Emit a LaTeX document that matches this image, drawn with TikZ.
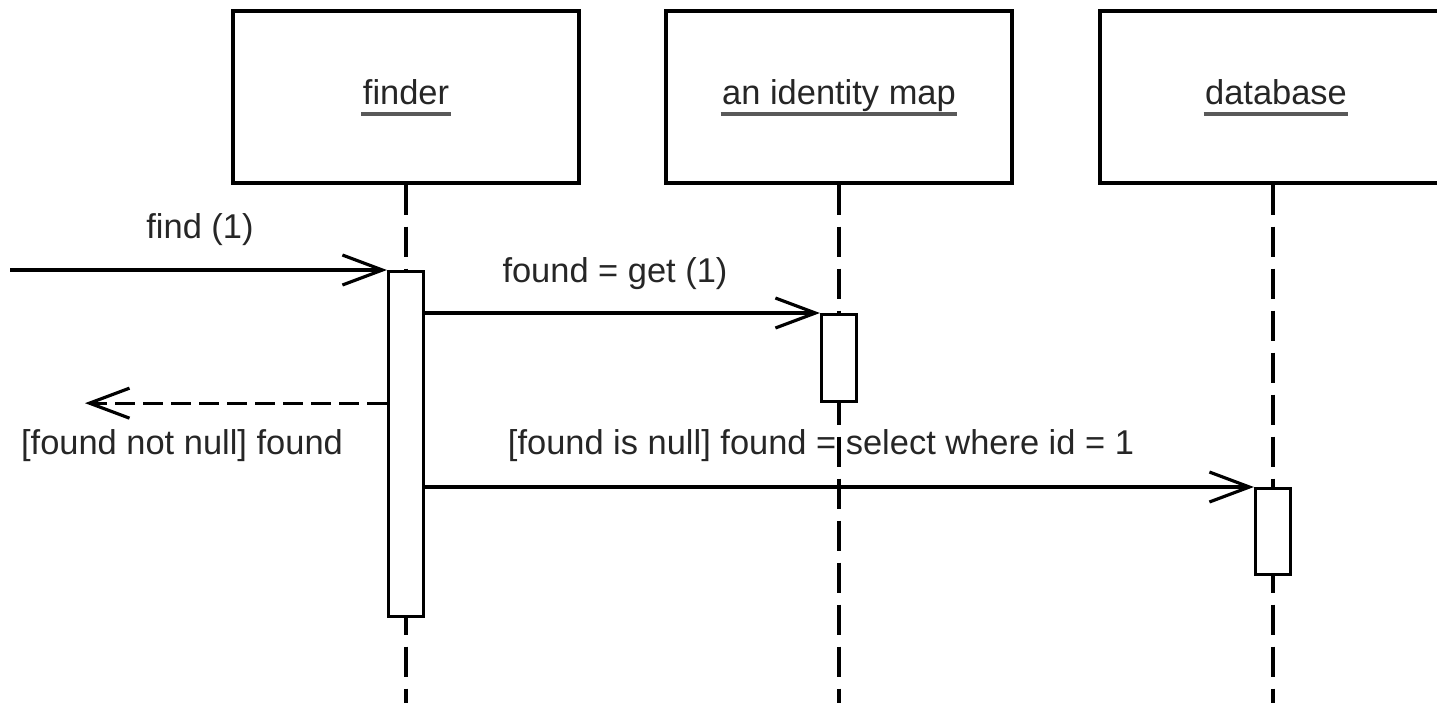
\documentclass[tikz,border=0pt]{standalone}
\usepackage{fontspec}
\setmainfont{Liberation Sans}
\usetikzlibrary{arrows.meta}

\begin{document}
\begin{tikzpicture}[x=0.1mm, y=-0.1mm, line width=0.9pt,
    font=\fontsize{9.8}{12}\selectfont,
    objbox/.style={draw, minimum width=34.6mm, minimum height=17.2mm, inner sep=0pt},
    objname/.style={anchor=base, inner sep=0pt, text=black!85},
    objline/.style={black!65, line width=1.2pt},
    lifeline/.style={dash pattern=on 3mm off 1.2mm},
    actbar/.style={draw, fill=white, anchor=north, minimum width=3.5mm, inner sep=0pt},
    msg/.style={-{Straight Barb[length=4mm, width=3mm]}},
    reply/.style={msg, dash pattern=on 2mm off 0.8mm},
    msglabel/.style={anchor=base, inner sep=0pt, text=black!85}]
    \clip (0, 0) rectangle (1437, 703);

    % objects
    \node[objbox] (finder) at (406, 97) {};
    \node[objbox] (idmap) at (839, 97) {};
    \node[objbox] (db) at (1273, 97) {};

    \node[objname] (finderlbl) at (406, 104) {finder};
    \node[objname] (idmaplbl) at (839, 104) {an identity map};
    \node[objname] (dblbl) at (1276, 104) {database};
    \draw[objline] ([yshift=-1mm]finderlbl.base west) -- ([yshift=-1mm]finderlbl.base east);
    \draw[objline] ([yshift=-1mm]idmaplbl.base west) -- ([yshift=-1mm]idmaplbl.base east);
    \draw[objline] ([yshift=-1mm]dblbl.base west) -- ([yshift=-1mm]dblbl.base east);

    % lifelines
    \coordinate (finderend) at (406, 703);
    \coordinate (idmapend) at (839, 703);
    \coordinate (dbend) at (1273, 703);
    \draw[lifeline] (finder.south) -- (finderend);
    \draw[lifeline] (idmap.south) -- (idmapend);
    \draw[lifeline] (db.south) -- (dbend);

    % activations
    \node[actbar, minimum height=34.5mm] (finderact) at (406, 270) {};
    \node[actbar, minimum height=8.7mm] (idmapact) at (839, 313) {};
    \node[actbar, minimum height=8.6mm] (dbact) at (1273, 487) {};

    % messages
    \coordinate (caller) at (10, 270);
    \coordinate (replyend) at (85, 400);
    \draw[msg] (caller) -- (finderact.north west);
    \draw[msg] (finderact.east |- idmapact.north) -- (idmapact.north west);
    \draw[reply] (finderact.west |- idmapact.south) -- (idmapact.south -| replyend);
    \draw[msg] (finderact.east |- dbact.north) -- (dbact.north west);

    \node[msglabel] (findlbl) at (200, 238) {find (1)};
    \node[msglabel] (getlbl) at (615, 282) {found = get (1)};
    \node[msglabel] (replylbl) at (182, 454) {[found not null] found};
    \node[msglabel] (selectlbl) at (821, 454) {[found is null] found = select where id = 1};
\end{tikzpicture}
\end{document}
